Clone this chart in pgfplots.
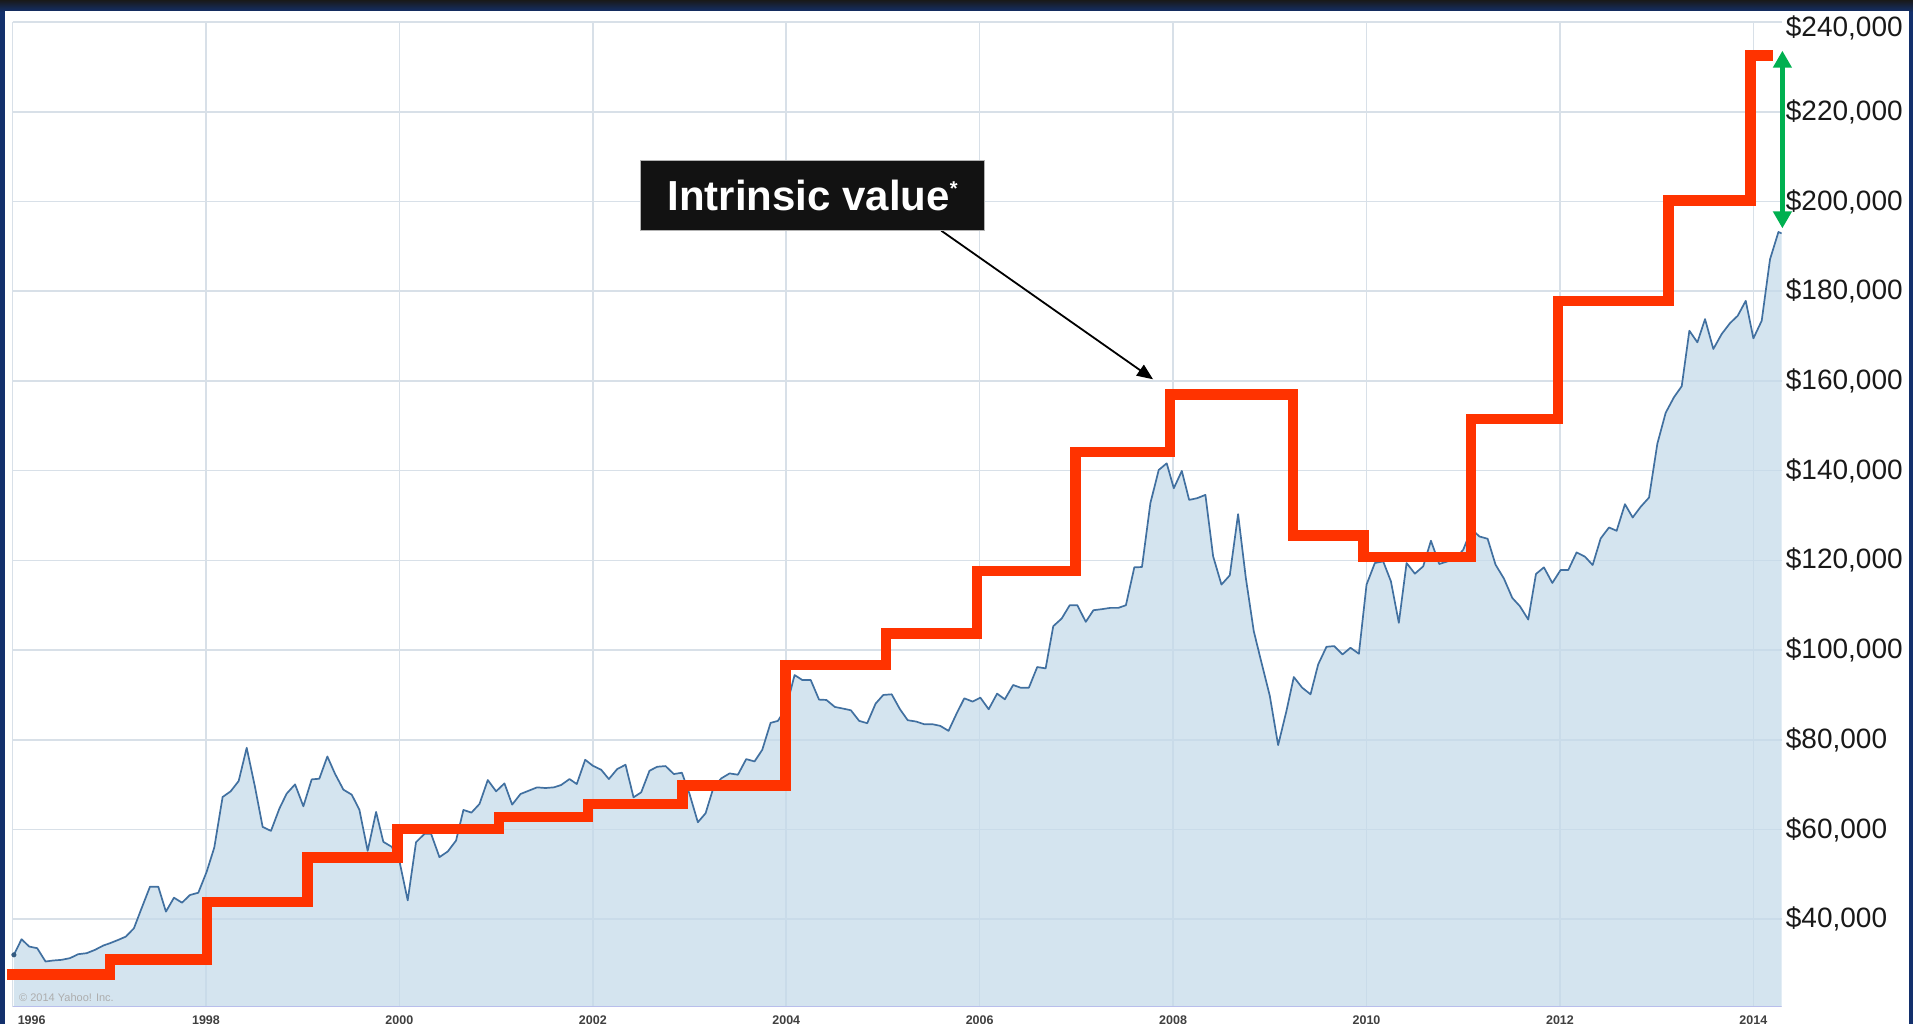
\documentclass[border=0pt]{standalone}
\usepackage{fontspec}
\setmainfont{Liberation Sans}
\usepackage{pgfplots}
\pgfplotsset{compat=1.18}
\usepackage{pgfplotstable}
\usetikzlibrary{arrows.meta}
\definecolor{navy}{HTML}{13306C}
\definecolor{gridc}{HTML}{D8E0E8}
\definecolor{fillc}{HTML}{C4DAEA}
\definecolor{linec}{HTML}{4170A0}
\definecolor{redc}{HTML}{FF3300}
\definecolor{greenc}{HTML}{00B050}
\definecolor{boxc}{HTML}{121212}

\pgfplotstableread{
x y
1996.014 32075
1996.093 35556
1996.172 33926
1996.255 33556
1996.341 30593
1996.421 30815
1996.507 30963
1996.593 31333
1996.679 32222
1996.766 32444
1996.852 33185
1996.938 34148
1997.007 34667
1997.093 35407
1997.172 36148
1997.255 38000
1997.334 42444
1997.421 47259
1997.507 47259
1997.586 41704
1997.669 44815
1997.752 43704
1997.834 45407
1997.921 45926
1998.007 50593
1998.086 56000
1998.172 67259
1998.255 68519
1998.338 70815
1998.421 78222
1998.507 69481
1998.586 60593
1998.672 59704
1998.759 64667
1998.834 68000
1998.921 70074
1999.007 65185
1999.093 71185
1999.172 71333
1999.255 76296
1999.334 72444
1999.421 68889
1999.507 67778
1999.586 64444
1999.672 55259
1999.759 63926
1999.834 57259
1999.921 56148
2000.000 53000
2000.086 44222
2000.172 57185
2000.259 59037
2000.328 59037
2000.414 53852
2000.500 55111
2000.586 57556
2000.662 64370
2000.745 63778
2000.828 65704
2000.914 71037
2001.000 68519
2001.086 70296
2001.166 65556
2001.252 67926
2001.338 68667
2001.424 69407
2001.510 69259
2001.597 69407
2001.672 69926
2001.759 71259
2001.834 70148
2001.921 75556
2002.000 74222
2002.086 73333
2002.166 71259
2002.252 73481
2002.338 74444
2002.421 67185
2002.500 68296
2002.586 73111
2002.666 74000
2002.752 74148
2002.838 72370
2002.921 72667
2003.000 67926
2003.086 61630
2003.166 63630
2003.248 69407
2003.328 71407
2003.414 72519
2003.500 72222
2003.586 75704
2003.672 75185
2003.752 77778
2003.838 83778
2003.914 84222
2004.000 87185
2004.086 94444
2004.166 93333
2004.253 93333
2004.339 88963
2004.415 88889
2004.502 87333
2004.588 86963
2004.668 86593
2004.754 84222
2004.837 83704
2004.924 88074
2005.003 90000
2005.090 90148
2005.176 86815
2005.256 84370
2005.343 84074
2005.426 83481
2005.512 83481
2005.592 83111
2005.678 82000
2005.758 85704
2005.841 89259
2005.927 88519
2006.007 89407
2006.093 86815
2006.180 90296
2006.260 89037
2006.346 92222
2006.422 91630
2006.509 91630
2006.595 96222
2006.682 95926
2006.761 105333
2006.848 107037
2006.931 110000
2007.010 110000
2007.097 106296
2007.176 108889
2007.260 109111
2007.349 109407
2007.433 109407
2007.512 110000
2007.599 118444
2007.678 118519
2007.765 132741
2007.851 140148
2007.934 141630
2008.007 136074
2008.090 139926
2008.166 133481
2008.248 133852
2008.334 134593
2008.414 120889
2008.500 114593
2008.586 116667
2008.672 130296
2008.752 116074
2008.834 104222
2008.914 97185
2009.000 89778
2009.086 78815
2009.172 86444
2009.248 94000
2009.334 91630
2009.421 90148
2009.500 96815
2009.586 100741
2009.666 100889
2009.752 99037
2009.834 100519
2009.921 99185
2010.000 114593
2010.086 119407
2010.172 119778
2010.252 115333
2010.334 106074
2010.414 119407
2010.500 117037
2010.586 118667
2010.666 124370
2010.752 119185
2010.838 119778
2010.924 120519
2011.000 122370
2011.086 127000
2011.166 125333
2011.252 124815
2011.334 119037
2011.421 115926
2011.507 111630
2011.586 109778
2011.672 106815
2011.752 116963
2011.834 118444
2011.921 114963
2012.007 117852
2012.086 117852
2012.172 121778
2012.259 120815
2012.338 118963
2012.421 124889
2012.507 127333
2012.586 126593
2012.672 132519
2012.752 129556
2012.834 131926
2012.921 134000
2013.007 146000
2013.093 152889
2013.179 156370
2013.259 158815
2013.338 171185
2013.421 168593
2013.500 173778
2013.586 167111
2013.672 170444
2013.759 172889
2013.838 174519
2013.921 177852
2014.000 169481
2014.086 173407
2014.172 187111
2014.259 193185
2014.293 192889
}\price

\pgfplotstableread{
x y
1995.94 27700
1997.01 31000
1998.01 43800
1999.05 53800
1999.98 60100
2001.03 62800
2001.95 65700
2002.925 69800
2003.99 96700
2005.03 103700
2005.97 117600
2006.99 144200
2007.97 157000
2009.24 125500
2009.97 120700
2011.08 151500
2011.98 177800
2013.12 200200
2013.97 232500
2014.20 232500
}\intrinsic

\pgfplotsset{
  basegeom/.style={
    at={(12.55pt,17pt)}, anchor=south west,
    scale only axis, width=1769.15pt, height=985pt,
    xmin=1996, xmax=2014.293, ymin=20452, ymax=240000,
  }
}

\begin{document}
\begin{tikzpicture}
\path[use as bounding box] (0pt,0pt) rectangle (1913pt,1024pt);
\clip (0pt,0pt) rectangle (1913pt,1024pt);
\fill[navy] (0pt,0pt) rectangle (1913pt,1024pt);
\shade[top color=black!90, bottom color=navy] (0pt,1012pt) rectangle (1913pt,1024pt);
\fill[white] (5pt,0pt) rectangle (1909pt,1013pt);

\begin{axis}[
  basegeom,
  axis line style={draw=none},
  xtick={1998,2000,2002,2004,2006,2008,2010,2012,2014},
  xticklabels={1998,2000,2002,2004,2006,2008,2010,2012,2014},
  extra x ticks={1996},
  extra x tick labels={1996},
  extra x tick style={grid=major, xticklabel style={anchor=north west, xshift=5pt}},
  ytick={40000,60000,80000,100000,120000,140000,160000,180000,200000,220000},
  yticklabels={{\$40,000},{\$60,000},{\$80,000},{\$100,000},{\$120,000},{\$140,000},{\$160,000},{\$180,000},{\$200,000},{\$220,000}},
  extra y ticks={240000},
  extra y tick labels={\$240{,}000},
  extra y tick style={grid=major, yticklabel style={yshift=-6pt}},
  yticklabel pos=right,
  major tick length=0pt,
  grid=major,
  grid style={draw=gridc, line width=1.6pt},
  xticklabel style={font=\fontsize{12.5}{14}\selectfont\bfseries, text=black!75, anchor=north, inner sep=0pt, yshift=-8.5pt},
  yticklabel style={font=\fontsize{28}{32}\selectfont, text=black!90, anchor=west, inner sep=0pt, xshift=4pt},
]
\addplot[fill=fillc, fill opacity=0.72, draw=none] table[x=x,y=y]{\price} \closedcycle;
\addplot[linec, line width=1.7pt, line join=round] table[x=x,y=y]{\price};
\addplot[only marks, mark=*, mark size=2.3pt, color=linec!80!black] coordinates {(1996.014,32075)};
\draw[draw=gridc!85!blue, line width=2pt] (rel axis cs:0,0) -- (rel axis cs:1,0);
\node[anchor=west, inner sep=0pt, text=black!32, font=\fontsize{11}{12}\selectfont] at (axis cs:1996.067,22600) {\textcopyright{} 2014 Yahoo! Inc.};
\end{axis}

\begin{axis}[basegeom, hide axis, clip=false]
\addplot[redc, line width=10.5pt, const plot, line join=miter] table[x=x,y=y]{\intrinsic};
\draw[greenc, line width=5pt, {Triangle[width=18pt,length=17pt]}-{Triangle[width=18pt,length=17pt]}] (axis cs:2014.30,233600) -- (axis cs:2014.30,194000);
\draw[black, line width=1.8pt, -{Triangle[width=13pt,length=16pt]}] (axis cs:2005.603,193481) -- (axis cs:2007.793,160358);
\node[fill=boxc, draw=gray!60, line width=1pt, minimum width=344.6pt, minimum height=70pt, inner sep=0pt, text=white, font=\fontsize{42}{46}\selectfont\bfseries] at (axis cs:2004.272,201282) {Intrinsic value\raisebox{15pt}{\fontsize{20}{20}\selectfont *}};
\end{axis}
\end{tikzpicture}
\end{document}
